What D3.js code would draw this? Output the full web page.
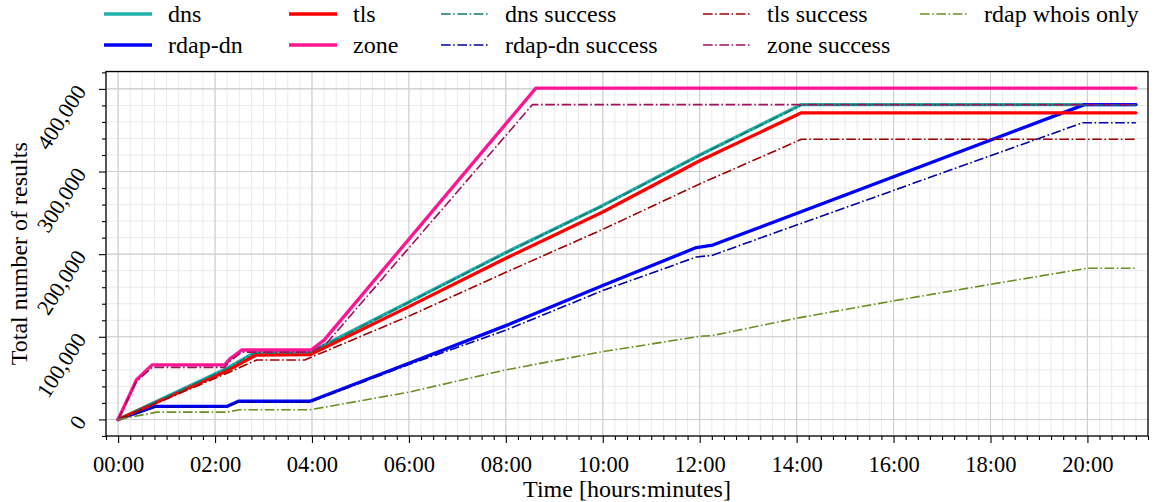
<!DOCTYPE html>
<html>
<head>
<meta charset="utf-8">
<script src="https://cdn.jsdelivr.net/npm/d3@7"></script>
<style>
  body { margin: 0; background: #fff; }
  svg text { font-family: "Liberation Serif", "DejaVu Serif", serif; fill: #000; }
</style>
</head>
<body>
<svg id="chart" width="1158" height="502"></svg>
<script>
// Cumulative results per scan type: [hours since start, total results]
const dns = [[0,0],[2.25,62000],[2.8,80500],[3.97,81500],[6,142000],[8,202000],[10,259000],[12,320000],[14.1,381000],[21,381000]];
const rdapDn = [[0,0],[0.76,15700],[2.24,15700],[2.48,22000],[3.96,22000],[6,68000],[8,113500],[10,162000],[11.93,208000],[12.27,211000],[19.94,381000],[21,381000]];
const tls = [[0,0],[2.25,59000],[2.85,78000],[3.97,78500],[6,136500],[8,195000],[10,251000],[12,313000],[14.1,371000],[21,371000]];
const zone = [[0,0],[0.38,48000],[0.7,66000],[2.2,66000],[2.3,73000],[2.55,84000],[3.98,84000],[4.25,96000],[8.62,401000],[21,401000]];
const dnsSuccess = [[0,0],[2.25,61500],[2.8,80000],[3.97,81000],[6,141500],[8,201500],[10,258500],[12,319500],[14.1,380500],[21,380500]];
const rdapDnSuccess = [[0,0],[0.76,15000],[2.24,15000],[2.48,21000],[3.96,21000],[6,66500],[8,108000],[10,156000],[11.93,196500],[12.25,198500],[19.9,359000],[21,359000]];
const tlsSuccess = [[0,0],[2.25,56000],[2.86,72000],[3.85,72000],[6,125000],[8,178000],[10,230000],[12,285000],[14.1,339000],[21,339000]];
const zoneSuccess = [[0,0],[0.38,46000],[0.7,63000],[2.2,63000],[2.3,70000],[2.55,81500],[3.98,81500],[4.3,92000],[8.55,381000],[21,381000]];
const rdapWhoisOnly = [[0,0],[0.8,8800],[2.24,8800],[2.5,11700],[3.96,11700],[6,33000],[8,60000],[10,82000],[12,100600],[12.26,101500],[14,122500],[16,143500],[18,163500],[20,183000],[21,183000]];

const seriesNames = ["dns","rdap-dn","tls","zone","dns success","rdap-dn success","tls success","zone success","rdap whois only"];
const seriesData = [dns, rdapDn, tls, zone, dnsSuccess, rdapDnSuccess, tlsSuccess, zoneSuccess, rdapWhoisOnly];

const xTickHours = [0,2,4,6,8,10,12,14,16,18,20];
const yTickValues = [0,100000,200000,300000,400000];
const xLabel = "Time [hours:minutes]";
const yLabel = "Total number of results";

// Line styles (solid totals, dash-dot successes)
const seriesColors = ["#20b2aa","#0000ff","#ff0000","#ff1493","#16786f","#0000a8","#a00000","#a3105f","#6b8e23"];
const seriesDashed = [false,false,false,false,true,true,true,true,true];

const svg = d3.select("#chart");
const W = 1158, H = 502;
const plot = { left: 106, right: 1148, top: 71.5, bottom: 436 };

const maxV = d3.max(seriesData, s => d3.max(s, d => d[1]));
const x = d3.scaleLinear().domain([-0.25, 21.25]).range([plot.left, plot.right]);
const y = d3.scaleLinear().domain([-0.05 * maxV, 1.05 * maxV]).range([plot.bottom, plot.top]);

const pad2 = d3.format("02d");
const fmtTime = h => pad2(Math.floor(h)) + ":" + pad2(Math.round((h - Math.floor(h)) * 60));
const fmtNum = d3.format(",");

const xMinor = d3.range(-0.25, 21.25 + 1e-9, 0.25);
const yMinor = d3.range(-20000, 1.05 * maxV, 20000);

// grid
const grid = svg.append("g");
grid.selectAll("line.xminor").data(xMinor).join("line")
  .attr("x1", d => x(d)).attr("x2", d => x(d))
  .attr("y1", plot.top).attr("y2", plot.bottom)
  .attr("stroke", "#ebebeb").attr("stroke-width", 1);
grid.selectAll("line.yminor").data(yMinor).join("line")
  .attr("y1", d => y(d)).attr("y2", d => y(d))
  .attr("x1", plot.left).attr("x2", plot.right)
  .attr("stroke", "#ebebeb").attr("stroke-width", 1);
grid.selectAll("line.xmajor").data(xTickHours).join("line")
  .attr("x1", d => x(d)).attr("x2", d => x(d))
  .attr("y1", plot.top).attr("y2", plot.bottom)
  .attr("stroke", "#cdcdcd").attr("stroke-width", 1.1);
grid.selectAll("line.ymajor").data(yTickValues).join("line")
  .attr("y1", d => y(d)).attr("y2", d => y(d))
  .attr("x1", plot.left).attr("x2", plot.right)
  .attr("stroke", "#cdcdcd").attr("stroke-width", 1.1);

// series
svg.append("clipPath").attr("id", "plotclip").append("rect")
  .attr("x", plot.left).attr("y", plot.top)
  .attr("width", plot.right - plot.left).attr("height", plot.bottom - plot.top);

const line = d3.line().x(d => x(d[0])).y(d => y(d[1]));
const lines = svg.append("g").attr("clip-path", "url(#plotclip)");
seriesData.forEach((s, i) => {
  lines.append("path")
    .datum(s)
    .attr("d", line)
    .attr("fill", "none")
    .attr("stroke", seriesColors[i])
    .attr("stroke-width", seriesDashed[i] ? 1.6 : 3.3)
    .attr("stroke-linejoin", "round")
    .attr("stroke-linecap", seriesDashed[i] ? "butt" : "round")
    .attr("stroke-dasharray", seriesDashed[i] ? "9.6,2.6,1.6,2.6" : null);
});

// axes
const xAxis = svg.append("g").attr("transform", `translate(0,${plot.bottom})`)
  .call(d3.axisBottom(x).tickValues(xTickHours).tickSize(7).tickPadding(6).tickFormat(fmtTime));
svg.append("g").attr("transform", `translate(0,${plot.bottom})`)
  .call(d3.axisBottom(x).tickValues(xMinor.filter(v => !xTickHours.includes(v))).tickSize(4).tickFormat(""));
const yAxis = svg.append("g").attr("transform", `translate(${plot.left},0)`)
  .call(d3.axisLeft(y).tickValues(yTickValues).tickSize(7).tickFormat(fmtNum));
svg.append("g").attr("transform", `translate(${plot.left},0)`)
  .call(d3.axisLeft(y).tickValues(yMinor.filter(v => !yTickValues.includes(v))).tickSize(4).tickFormat(""));

svg.selectAll(".domain").remove();
svg.selectAll(".tick line").attr("stroke", "#000").attr("stroke-width", 1.1);

xAxis.selectAll(".tick text")
  .attr("font-size", "22.5px").attr("dy", null).attr("y", 36)
  .style("font-family", "'Liberation Serif', serif");

yAxis.selectAll(".tick text")
  .attr("font-size", "22px")
  .attr("x", null).attr("dy", null)
  .attr("text-anchor", "end")
  .attr("transform", "translate(-25,-2) rotate(-57)")
  .attr("dy", "0.33em")
  .style("font-family", "'Liberation Serif', serif");

// frame
svg.append("rect")
  .attr("x", plot.left).attr("y", plot.top)
  .attr("width", plot.right - plot.left).attr("height", plot.bottom - plot.top)
  .attr("fill", "none").attr("stroke", "#000").attr("stroke-width", 1.3);

// axis labels
svg.append("text")
  .attr("x", (plot.left + plot.right) / 2).attr("y", 497)
  .attr("text-anchor", "middle").attr("font-size", "24px")
  .text(xLabel);
svg.append("text")
  .attr("transform", `translate(27,${(plot.top + plot.bottom) / 2}) rotate(-90)`)
  .attr("text-anchor", "middle").attr("font-size", "24px")
  .text(yLabel);

// legend: 5 columns, 2 rows, filled column by column
const legendCols = [104, 289, 441, 703, 920];
const legendRows = [14, 45];
const legend = svg.append("g");
seriesNames.forEach((name, i) => {
  const cx = legendCols[Math.floor(i / 2)];
  const cy = legendRows[i % 2];
  legend.append("line")
    .attr("x1", cx).attr("x2", cx + 48)
    .attr("y1", cy).attr("y2", cy)
    .attr("stroke", seriesColors[i])
    .attr("stroke-width", seriesDashed[i] ? 1.6 : 3.3)
    .attr("stroke-dasharray", seriesDashed[i] ? "9.6,2.6,1.6,2.6" : null);
  legend.append("text")
    .attr("x", cx + 64).attr("y", cy + 7.5)
    .attr("font-size", "24px")
    .text(name);
});
</script>
</body>
</html>
